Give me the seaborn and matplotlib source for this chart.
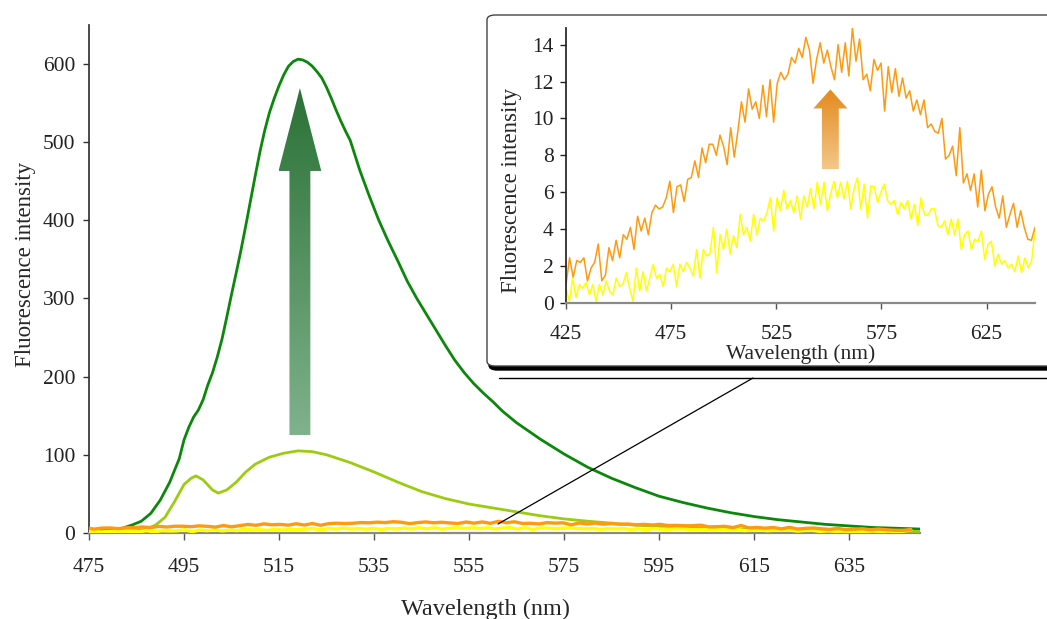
import matplotlib
matplotlib.use("Agg")
import matplotlib.pyplot as plt
import numpy as np
import seaborn as sns
from matplotlib.colors import LinearSegmentedColormap
from matplotlib.lines import Line2D
from matplotlib.patches import FancyBboxPatch, Polygon

# Main spectra
wl_dark = [475, 478, 480, 482, 484, 486, 488, 490, 492, 494, 495, 496, 497, 498, 499,
           500, 501, 502, 503, 504, 505, 506, 507, 508, 509, 510, 511, 512, 513, 514,
           515, 516, 517, 518, 519, 520, 521, 522, 523, 524, 525, 526, 527, 528, 529,
           530, 532, 534, 536, 538, 540, 542, 544, 546, 548, 550, 552, 554, 556, 558,
           560, 562, 565, 570, 575, 580, 585, 590, 595, 600, 605, 610, 615, 620, 625,
           630, 635, 640, 645, 650]
int_dark = [3, 3, 4, 6, 10, 15, 25, 42, 65, 95, 119, 135, 148, 157, 170,
            189, 205, 225, 248, 276, 305, 333, 362, 393, 425, 457, 488, 515, 538, 556,
            572, 586, 597, 603, 606, 605, 602, 597, 590, 582, 570, 556, 541, 527, 514,
            502, 464, 431, 400, 373, 348, 322, 300, 280, 260, 240, 221, 205, 191, 179,
            168, 156, 141, 120, 101, 84, 70, 58, 47, 39, 32, 26, 21, 17, 14,
            11, 9, 7, 6, 5]

wl_light = [475, 480, 485, 487, 489, 491, 493, 495, 496.5, 497.5, 499, 501, 502.2, 504,
            506, 508, 510, 513, 516, 519, 522, 525, 530, 535, 540, 545, 550, 555, 560,
            565, 570, 575, 580, 590, 600, 610, 620, 635, 650]
int_light = [2, 2, 3, 5, 10, 20, 40, 62, 70, 73, 68, 55, 51, 55,
             65, 78, 88, 97, 102, 105, 104, 100, 90, 78, 65, 53, 44, 37, 32,
             27, 22, 18, 15, 10, 7, 5, 4, 3, 2]

# Low signals, also shown in the inset
inset_orange = [1.0, 2.45, 1.4, 2.3, 2.2, 2.45, 1.2, 1.9, 2.2, 3.2,
                1.2, 1.5, 3.0, 2.3, 3.4, 2.45, 3.7, 3.45, 4.1, 2.9,
                4.7, 3.9, 4.6, 3.7, 4.9, 5.3, 5.1, 5.2, 5.7, 6.6,
                4.9, 6.3, 6.4, 5.5, 6.7, 6.8, 7.7, 6.8, 8.4, 7.6,
                8.6, 8.6, 8.0, 9.1, 8.5, 7.5, 9.5, 7.9, 9.3, 10.9,
                9.8, 11.6, 10.5, 10.9, 10.0, 11.8, 10.1, 12.1, 9.8, 11.9,
                12.5, 12.1, 12.4, 13.3, 13.0, 13.8, 13.3, 14.4, 13.7, 11.9,
                13.2, 14.1, 13.0, 13.7, 12.8, 12.1, 14.0, 12.5, 14.1, 12.3,
                14.9, 13.1, 14.3, 12.1, 12.4, 11.5, 13.2, 12.6, 13.0, 10.4,
                12.8, 11.4, 12.7, 11.2, 12.2, 11.1, 11.5, 10.4, 11.0, 10.2,
                11.0, 9.5, 9.7, 9.3, 9.2, 10.0, 7.8, 8.0, 8.5, 6.9,
                9.5, 6.5, 7.0, 6.1, 7.0, 5.2, 7.2, 5.0, 5.9, 6.3,
                5.2, 4.6, 5.8, 4.1, 4.8, 5.4, 4.1, 5.0, 4.1, 3.45,
                3.4, 4.1]
inset_yellow = [0.8, 0.1, 1.35, 0.3, 1.0, 0.8, 1.1, 0.45, 1.0, 0.1,
                1.0, 0.45, 1.2, 0.65, 0.45, 1.35, 0.9, 1.0, 1.65, 0.8,
                0.1, 1.9, 0.65, 1.7, 0.65, 1.35, 2.1, 1.35, 1.55, 0.9,
                1.9, 1.7, 2.1, 0.9, 2.1, 1.7, 2.2, 1.9, 1.45, 2.9,
                1.35, 2.9, 2.55, 2.7, 4.1, 1.65, 3.7, 2.9, 4.0, 2.65,
                3.65, 3.0, 4.8, 3.7, 4.1, 3.35, 4.8, 3.7, 4.6, 4.45,
                4.9, 5.7, 3.9, 5.7, 5.0, 6.1, 5.1, 5.55, 4.9, 5.8,
                4.55, 5.8, 5.2, 6.2, 5.1, 6.55, 5.35, 6.55, 5.0, 5.9,
                6.6, 5.7, 6.55, 5.65, 6.6, 5.1, 6.2, 6.8, 5.1, 6.45,
                4.6, 6.35, 6.3, 5.45, 6.0, 6.45, 5.55, 5.35, 5.55, 4.8,
                5.45, 5.1, 5.55, 4.55, 5.35, 4.2, 5.7, 4.8, 4.75, 5.1,
                5.1, 4.2, 4.1, 4.45, 3.7, 4.55, 3.7, 4.55, 2.9, 3.7,
                3.9, 2.9, 3.45, 3.35, 3.9, 2.35, 3.2, 3.35, 2.0, 2.65,
                2.1, 2.3, 1.9, 2.1, 1.7, 2.55, 1.65, 2.45, 1.9, 2.3,
                3.9]
wl_orange = np.linspace(425, 648, len(inset_orange))
wl_yellow = np.linspace(425, 648, len(inset_yellow))

main_xticks = [475, 495, 515, 535, 555, 575, 595, 615, 635]
main_yticks = [0, 100, 200, 300, 400, 500, 600]
inset_xticks = [425, 475, 525, 575, 625]
inset_yticks = [0, 2, 4, 6, 8, 10, 12, 14]

C_DARK = "#0b870b"
C_LIGHT = "#9ccc10"
C_ORANGE = "#ff9a10"
C_YELLOW = "#ffff00"
TICK_FS = 15.5

sns.set_theme(style="ticks")
plt.rcParams["font.family"] = ["Liberation Serif", "DejaVu Serif"]


def gradient_arrow(ax, xc, y0, y1, ybase, shaft_hw, head_hw, c_top, c_bot, z):
    verts = [(xc - shaft_hw, y0), (xc + shaft_hw, y0), (xc + shaft_hw, ybase),
             (xc + head_hw, ybase), (xc, y1), (xc - head_hw, ybase),
             (xc - shaft_hw, ybase)]
    poly = Polygon(verts, closed=True, facecolor="none", edgecolor="none")
    ax.add_patch(poly)
    cmap = LinearSegmentedColormap.from_list("grad", [c_bot, c_top])
    grad = np.linspace(0, 1, 256).reshape(-1, 1)
    im = ax.imshow(grad, cmap=cmap, origin="lower", aspect="auto",
                   extent=[xc - head_hw, xc + head_hw, y0, y1], zorder=z)
    im.set_clip_path(poly)


fig = plt.figure(figsize=(10.47, 6.19), dpi=100)

# ---- main axes
ax = fig.add_axes([0.085, 0.139, 0.794, 0.821], zorder=0)
sns.lineplot(x=wl_dark, y=int_dark, ax=ax, color=C_DARK, linewidth=2.0, zorder=3)
sns.lineplot(x=wl_light, y=int_light, ax=ax, color=C_LIGHT, linewidth=2.0, zorder=3)
sns.lineplot(x=wl_yellow, y=inset_yellow, ax=ax, color=C_YELLOW, linewidth=2.4, zorder=4)
sns.lineplot(x=wl_orange, y=inset_orange, ax=ax, color=C_ORANGE, linewidth=2.4, zorder=4)
gradient_arrow(ax, 519.4, 125, 569, 463, 2.2, 4.5, "#2b7136", "#80b28c", 2)
ax.set_xlim(475, 650)
ax.set_ylim(0, 650)
ax.set_xticks(main_xticks)
ax.set_yticks(main_yticks)
ax.set_xlabel("Wavelength (nm)", labelpad=15.5, fontsize=17.5)
ax.xaxis.label.set_x(0.477)
ax.set_ylabel("Fluorescence intensity", labelpad=5, fontsize=16.5)
ax.yaxis.label.set_y(0.528)
ax.tick_params(axis="x", length=5, width=1, pad=13, labelcolor="#222222",
               color="#555555", labelsize=TICK_FS)
ax.tick_params(axis="y", length=4, width=1, pad=6, labelcolor="#222222",
               color="#333333", labelsize=TICK_FS)
sns.despine(ax=ax)
ax.spines["bottom"].set_color("#8a8a8a")
ax.spines["bottom"].set_linewidth(1.6)
ax.spines["left"].set_color("#333333")
ax.set_facecolor("white")

# ---- inset frame (rounded box with shadow)
W, H = 1047, 619
x0, y0 = 487 / W, 1 - 366 / H
shadow = FancyBboxPatch((x0 + 2 / W, y0 - 4 / H), 0.6, 351 / H,
                        boxstyle="round,pad=0,rounding_size=0.008",
                        transform=fig.transFigure, facecolor="black",
                        edgecolor="black", zorder=1)
frame = FancyBboxPatch((x0, y0), 0.6, 351 / H,
                       boxstyle="round,pad=0,rounding_size=0.008",
                       transform=fig.transFigure, facecolor="white",
                       edgecolor="#444444", linewidth=1.0, zorder=1.1)
fig.patches.extend([shadow, frame])
fig.add_artist(Line2D([499 / W, 1.0], [1 - 378 / H, 1 - 378 / H],
                      transform=fig.transFigure, color="black", linewidth=1.0, zorder=2))
fig.add_artist(Line2D([753 / W, 498 / W], [1 - 378 / H, 1 - 524 / H],
                      transform=fig.transFigure, color="black", linewidth=0.9, zorder=2))

# ---- inset axes
axi = fig.add_axes([566 / W, 1 - 303 / H, 469 / W, 275 / H], zorder=3)
axi.patch.set_alpha(0)
sns.lineplot(x=wl_yellow, y=inset_yellow, ax=axi, color=C_YELLOW, linewidth=1.1)
sns.lineplot(x=wl_orange, y=inset_orange, ax=axi, color=C_ORANGE, linewidth=1.1)
gradient_arrow(axi, 550.7, 7.24, 11.57, 10.54, 4.0, 8.1, "#e38a1e", "#f4c788", 2)
axi.set_xlim(425, 648)
axi.set_ylim(0, 14.9)
axi.set_xticks(inset_xticks)
axi.set_yticks(inset_yticks)
axi.set_xlabel("Wavelength (nm)", labelpad=0, fontsize=15.5)
axi.set_ylabel("Fluorescence intensity", labelpad=7, fontsize=16.5)
axi.yaxis.label.set_y(0.41)
axi.tick_params(axis="x", length=4, width=1, pad=12, labelcolor="#222222",
                color="#555555", labelsize=TICK_FS)
axi.tick_params(axis="y", length=4, width=1, pad=5, labelcolor="#222222",
                color="#222222", labelsize=TICK_FS)
sns.despine(ax=axi)
axi.spines["bottom"].set_color("#8a8a8a")
axi.spines["bottom"].set_linewidth(1.6)
axi.spines["left"].set_color("#222222")

fig.savefig("out.png", dpi=100)
